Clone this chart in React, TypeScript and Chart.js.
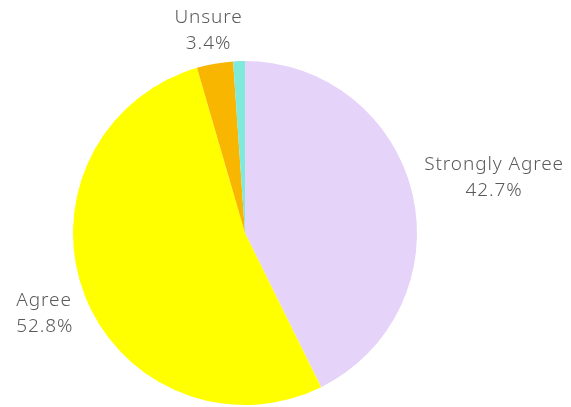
import React, { useEffect, useRef } from "react";
import { Chart, registerables } from "chart.js";

Chart.register(...registerables);

const categories = ["Strongly Agree", "Agree", "Unsure", "Disagree"];
const values = [42.7, 52.8, 3.4, 1.1];
const valueLabels = ["42.7%", "52.8%", "3.4%", ""];
const colors = ["#E6D3F9", "#FFFF00", "#F8B600", "#7FEADB"];

const FONT = "300 19px 'Noto Sans', 'Open Sans', sans-serif";

const outsideLabels = {
  id: "outsideLabels",
  afterDatasetsDraw(chart: any) {
    const ctx = chart.ctx as CanvasRenderingContext2D;
    const meta = chart.getDatasetMeta(0);
    ctx.save();
    ctx.font = FONT;
    (ctx as any).letterSpacing = "0.9px";
    ctx.fillStyle = "#5a5a5a";
    ctx.textBaseline = "middle";
    const lh = 26;
    meta.data.forEach((arc: any, i: number) => {
      if (!valueLabels[i]) return;
      const { x, y, startAngle, endAngle, outerRadius } = arc.getProps(
        ["x", "y", "startAngle", "endAngle", "outerRadius"],
        true
      );
      const mid = (startAngle + endAngle) / 2;
      const dx = Math.cos(mid);
      const dy = Math.sin(mid);
      const lines = [categories[i], valueLabels[i]];
      const w = Math.max(...lines.map((l) => ctx.measureText(l).width));
      const hw = w / 2 + 2;
      const hh = (lh * lines.length) / 2;
      const tx = Math.abs(dx) > 1e-6 ? hw / Math.abs(dx) : Infinity;
      const ty = Math.abs(dy) > 1e-6 ? hh / Math.abs(dy) : Infinity;
      const t = Math.min(tx, ty);
      const d = outerRadius + 10 + t;
      const cx = x + dx * d;
      const cy = y + dy * d + 3;
      const leftSide = dx < -0.5;
      if (leftSide) {
        let left = cx - w / 2;
        if (left < 15) left = 15;
        ctx.textAlign = "left";
        lines.forEach((l, k) => {
          ctx.fillText(l, left, cy - hh + lh / 2 + k * lh);
        });
      } else {
        ctx.textAlign = "center";
        lines.forEach((l, k) => {
          ctx.fillText(l, cx, cy - hh + lh / 2 + k * lh);
        });
      }
    });
    ctx.restore();
  },
};

export default function App() {
  const ref = useRef<HTMLCanvasElement>(null);
  useEffect(() => {
    if (!ref.current) return;
    const chart = new Chart(ref.current, {
      type: "pie",
      data: {
        labels: categories,
        datasets: [
          {
            data: values,
            backgroundColor: colors,
            borderWidth: 0,
          },
        ],
      },
      options: {
        animation: false,
        responsive: false,
        layout: { padding: { top: 61, bottom: 2, left: 73, right: 154 } },
        plugins: {
          legend: { display: false },
          tooltip: { enabled: false },
        },
      },
      plugins: [outsideLabels],
    });
    return () => chart.destroy();
  }, []);
  return (
    <div style={{ position: "absolute", left: 0, top: 0, width: 571, height: 407, background: "#fff" }}>
      <canvas ref={ref} width={571} height={407} style={{ width: 571, height: 407 }} />
    </div>
  );
}
